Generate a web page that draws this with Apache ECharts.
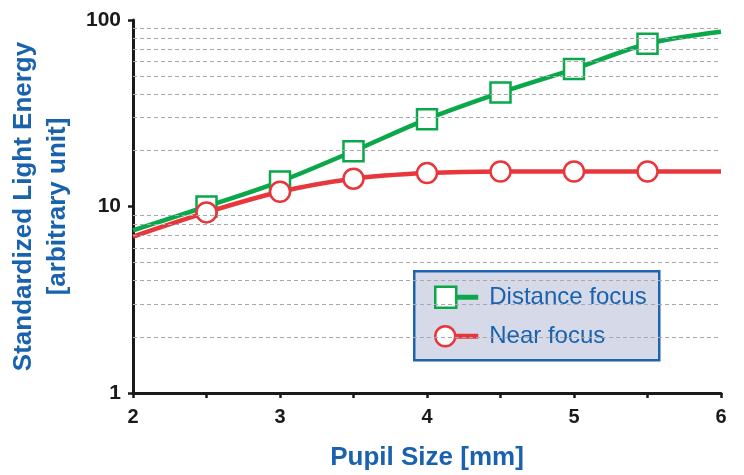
<!DOCTYPE html>
<html>
<head>
<meta charset="utf-8">
<script src="https://cdn.jsdelivr.net/npm/echarts@6/dist/echarts.min.js"></script>
<style>
html,body{margin:0;padding:0;background:#fff;}
#chart{width:744px;height:475px;}
</style>
</head>
<body>
<div id="chart"></div>
<script>
const pupilSize = [2, 2.5, 3, 3.5, 4, 4.5, 5, 5.5, 6];
const distanceFocus = [7.45, 10.0, 13.6, 19.8, 29.4, 40.8, 54.6, 74.6, 86.5];
const nearFocus = [6.9, 9.3, 12.0, 14.1, 15.1, 15.4, 15.4, 15.4, 15.4];
const markerShown = [false, true, true, true, true, true, true, true, false];
const seriesNames = ['Distance focus', 'Near focus'];
const gridValues = [2, 3, 4, 5, 6, 7, 8, 9, 20, 30, 40, 50, 60, 70, 80, 90];
const xTitle = 'Pupil Size [mm]';
const yTitle = 'Standardized Light Energy\n[arbitrary unit]';

const GREEN = '#0aa84b';
const RED = '#e8373c';
const BLUE = '#1a62ae';
const FONT = '"Liberation Sans", Arial, sans-serif';

function toData(vals) {
  return pupilSize.map((x, i) => markerShown[i] ? [x, vals[i]] : { value: [x, vals[i]], symbol: 'none' });
}

const chart = echarts.init(document.getElementById('chart'), null, { renderer: 'canvas' });

const option = {
  backgroundColor: '#ffffff',
  animation: false,
  grid: { left: 133, right: 23, top: 20, bottom: 82, containLabel: false, outerBoundsMode: 'none' },
  xAxis: {
    type: 'value', min: 2, max: 6, interval: 0.5,
    name: xTitle, nameLocation: 'middle', nameGap: 52,
    nameTextStyle: { color: BLUE, fontFamily: FONT, fontWeight: 'bold', fontSize: 26 },
    axisLine: { show: true, lineStyle: { color: '#1a1a1a', width: 3 } },
    axisTick: { show: true, length: 5, lineStyle: { color: '#1a1a1a', width: 2.5 } },
    axisLabel: {
      margin: 14, color: '#1a1a1a', fontFamily: FONT, fontWeight: 'bold', fontSize: 20,
      formatter: v => (Math.abs(v - Math.round(v)) < 1e-9 ? String(Math.round(v)) : '')
    },
    splitLine: { show: false }
  },
  yAxis: {
    type: 'log', logBase: 10, min: 1, max: 100,
    name: yTitle, nameLocation: 'middle', nameGap: 58, nameRotate: 90,
    nameTextStyle: { color: BLUE, fontFamily: FONT, fontWeight: 'bold', fontSize: 26, lineHeight: 34, align: 'center' },
    axisLine: { show: true, lineStyle: { color: '#1a1a1a', width: 3 } },
    axisTick: { show: true, length: 5, lineStyle: { color: '#1a1a1a', width: 2.5 } },
    axisLabel: { margin: 12, color: '#1a1a1a', fontFamily: FONT, fontWeight: 'bold', fontSize: 21 },
    splitLine: { show: false }
  },
  series: [
    {
      type: 'line', name: 'grid', data: [], z: 1, silent: true,
      markLine: {
        silent: true, symbol: 'none', animation: false,
        label: { show: false },
        lineStyle: { color: '#a8a8a8', width: 1, type: [4, 3] },
        emphasis: { disabled: true },
        data: gridValues.map(v => ({ yAxis: v }))
      }
    },
    {
      type: 'line', name: seriesNames[0], data: toData(distanceFocus), z: 3,
      smooth: 0.3,
      symbol: 'rect', symbolSize: 20, showAllSymbol: true,
      lineStyle: { color: GREEN, width: 4.5 },
      itemStyle: { color: '#ffffff', borderColor: GREEN, borderWidth: 2.5 }
    },
    {
      type: 'line', name: seriesNames[1], data: toData(nearFocus), z: 4,
      smooth: 0.3,
      symbol: 'circle', symbolSize: 20, showAllSymbol: true,
      lineStyle: { color: RED, width: 4.5 },
      itemStyle: { color: '#ffffff', borderColor: RED, borderWidth: 2.5 }
    }
  ],
  graphic: [
    {
      type: 'group', left: 413, top: 270, z: 10,
      children: [
        { type: 'rect', shape: { x: 0, y: 0, width: 245, height: 89 },
          style: { fill: '#d5d9e8', stroke: '#1e63b0', lineWidth: 2.5 } },
        { type: 'line', shape: { x1: 40, y1: 26, x2: 64, y2: 26 }, style: { stroke: GREEN, lineWidth: 5 } },
        { type: 'rect', shape: { x: 21, y: 15.5, width: 21, height: 21 },
          style: { fill: '#ffffff', stroke: GREEN, lineWidth: 2.5 } },
        { type: 'text', x: 75, y: 26,
          style: { text: seriesNames[0], fill: BLUE, font: '24px ' + FONT, textVerticalAlign: 'middle', verticalAlign: 'middle' } },
        { type: 'line', shape: { x1: 40, y1: 65, x2: 64, y2: 65 }, style: { stroke: RED, lineWidth: 5 } },
        { type: 'circle', shape: { cx: 31, cy: 65, r: 10 },
          style: { fill: '#ffffff', stroke: RED, lineWidth: 2.5 } },
        { type: 'text', x: 75, y: 65,
          style: { text: seriesNames[1], fill: BLUE, font: '24px ' + FONT, textVerticalAlign: 'middle', verticalAlign: 'middle' } }
      ]
    }
  ]
};
chart.setOption(option);
</script>
</body>
</html>
